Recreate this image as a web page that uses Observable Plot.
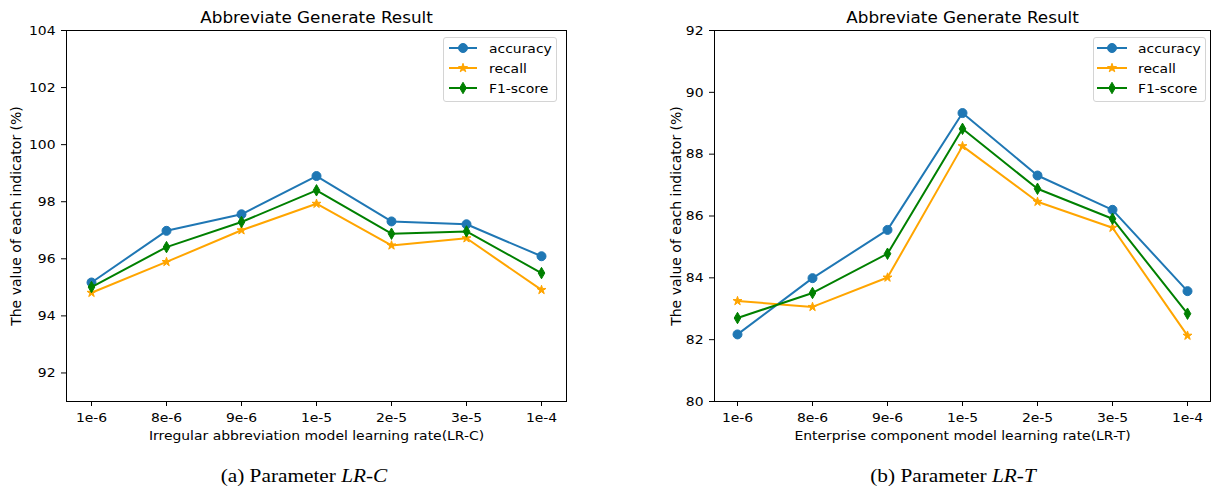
<!DOCTYPE html>
<html><head><meta charset="utf-8">
<script src="https://cdn.jsdelivr.net/npm/d3@7"></script>
<script src="https://cdn.jsdelivr.net/npm/@observablehq/plot@0.6"></script>
<style>
body{margin:0;background:#fff;}
#wrap{position:relative;width:1213px;height:489px;font-family:"DejaVu Sans",sans-serif;overflow:hidden;}
.panel{position:absolute;top:0;}
.legend{position:absolute;box-sizing:border-box;border:1px solid #d4d4d4;border-radius:3px;background:rgba(255,255,255,0.8);}
.caption{position:absolute;font-family:"Liberation Serif","Times New Roman",serif;font-size:19px;line-height:20px;transform:translateX(-50%) scaleX(1.12);white-space:nowrap;color:#000;}
</style></head><body><div id="wrap"></div>
<script>
const categories = ["1e-6","8e-6","9e-6","1e-5","2e-5","3e-5","1e-4"];
const seriesNames = ["accuracy","recall","F1-score"];
const lrcAccuracy = [95.17, 96.98, 97.56, 98.90, 97.31, 97.21, 96.09];
const lrcRecall   = [94.81, 95.89, 97.00, 97.93, 96.47, 96.72, 94.91];
const lrcF1       = [95.01, 96.41, 97.29, 98.40, 96.88, 96.96, 95.50];
const lrtAccuracy = [82.17, 83.99, 85.55, 89.33, 87.31, 86.20, 83.57];
const lrtRecall   = [83.25, 83.06, 84.01, 88.26, 86.46, 85.62, 82.13];
const lrtF1       = [82.70, 83.51, 84.78, 88.82, 86.88, 85.91, 82.84];
const lrcTicks = [92, 94, 96, 98, 100, 102, 104];
const lrtTicks = [80, 82, 84, 86, 88, 90, 92];
const titleText = "Abbreviate Generate Result";
const yLabel = "The value of each indicator (%)";
const xLabelC = "Irregular abbreviation model learning rate(LR-C)";
const xLabelT = "Enterprise component model learning rate(LR-T)";

const colors = ["#1f77b4", "#ffa500", "#008000"];
const thinDiamond = {draw(ctx, size){
  const r = Math.sqrt(size / Math.PI); const h = r * 1.3, w = r * 0.75;
  ctx.moveTo(0, -h); ctx.lineTo(w, 0); ctx.lineTo(0, h); ctx.lineTo(-w, 0); ctx.closePath();
}};
const symbols = [d3.symbolCircle, d3.symbolStar, thinDiamond];
const radii = [4.5, 2.8, 4.4];

function panel({series, domain, ticks, xlabel, width, marginLeft, marginRight, yOffset}) {
  const marks = [];
  series.forEach((vals, k) => {
    const d = categories.map((c, i) => ({cat: c, value: vals[i], series: seriesNames[k]}));
    marks.push(Plot.line(d, {x: "cat", y: "value", stroke: colors[k], strokeWidth: 2}));
    marks.push(Plot.dot(d, {x: "cat", y: "value", symbol: symbols[k], r: radii[k], fill: colors[k], stroke: colors[k], strokeWidth: 1}));
  });
  return Plot.plot({
    width, height: 455, marginTop: 30, marginBottom: 54, marginLeft, marginRight,
    style: {fontFamily: "'DejaVu Sans', sans-serif", fontSize: "13px", color: "#000", background: "transparent", overflow: "visible"},
    x: {type: "point", domain: categories, padding: 0.3},
    y: {domain},
    marks: [
      Plot.axisX({tickSize: 5, tickPadding: 6, label: null, fontSize: 13}),
      Plot.axisY({ticks, tickSize: 5, tickPadding: 6, label: null, fontSize: 13, tickFormat: d => String(d)}),
      ...marks,
      Plot.frame({stroke: "#000", strokeWidth: 1}),
      Plot.text([titleText], {frameAnchor: "top", lineAnchor: "middle", dy: -13, fontSize: 16, text: d => d}),
      Plot.text([xlabel], {frameAnchor: "bottom", lineAnchor: "middle", dy: 34.5, fontSize: 13, text: d => d}),
      Plot.text([yLabel], {frameAnchor: "left", lineAnchor: "middle", dx: -yOffset, rotate: -90, textAnchor: "middle", fontSize: 14, text: d => d})
    ]
  });
}

function stretch(root, factorFor) {
  root.querySelectorAll("text").forEach(t => {
    if (t.textContent === yLabel) return;
    const f = factorFor(t);
    const len = t.getComputedTextLength();
    if (len > 0) { t.setAttribute("textLength", len * f); t.setAttribute("lengthAdjust", "spacingAndGlyphs"); }
  });
}
const factorFor = t => (t.textContent === titleText ? 1.05 : 1.07);

const wrap = document.getElementById("wrap");
const p1 = panel({series: [lrcAccuracy, lrcRecall, lrcF1], domain: [91, 104], ticks: lrcTicks, xlabel: xLabelC, width: 606, marginLeft: 66, marginRight: 40, yOffset: 50});
p1.classList.add("panel"); p1.style.left = "0px";
wrap.appendChild(p1);
const p2 = panel({series: [lrtAccuracy, lrtRecall, lrtF1], domain: [80, 92], ticks: lrtTicks, xlabel: xLabelT, width: 607, marginLeft: 108, marginRight: 3, yOffset: 38});
p2.classList.add("panel"); p2.style.left = "606px";
wrap.appendChild(p2);
stretch(p1, factorFor);
stretch(p2, factorFor);

function legend(left, top, w, h, x0, x1, tx) {
  const div = document.createElement("div");
  div.className = "legend";
  Object.assign(div.style, {left: left + "px", top: top + "px", width: w + "px", height: h + "px"});
  const svg = d3.create("svg").attr("width", w - 2).attr("height", h - 2).style("display", "block");
  seriesNames.forEach((name, k) => {
    const y = 10 + k * 20;
    svg.append("line").attr("x1", x0).attr("x2", x1).attr("y1", y).attr("y2", y).attr("stroke", colors[k]).attr("stroke-width", 2);
    svg.append("path").attr("d", d3.symbol(symbols[k], Math.PI * radii[k] * radii[k])()).attr("transform", `translate(${(x0 + x1) / 2},${y})`)
      .attr("fill", colors[k]).attr("stroke", colors[k]).attr("stroke-width", 1);
    svg.append("text").attr("x", tx).attr("y", y).attr("dy", "0.35em").attr("font-size", 13).attr("font-family", "'DejaVu Sans', sans-serif").attr("fill", "#000").text(name);
  });
  div.appendChild(svg.node());
  wrap.appendChild(div);
  stretch(div, () => 1.07);
}
legend(443, 37, 114, 65, 5, 33, 45);
legend(1093, 37, 113, 65, 3, 33, 44);

function caption(cx, label, it) {
  const div = document.createElement("div");
  div.className = "caption";
  div.style.left = cx + "px"; div.style.top = "466px";
  div.append(label);
  const i = document.createElement("i"); i.textContent = it; div.appendChild(i);
  wrap.appendChild(div);
}
caption(304, "(a) Parameter ", "LR-C");
caption(953, "(b) Parameter ", "LR-T");
</script>
</body></html>
